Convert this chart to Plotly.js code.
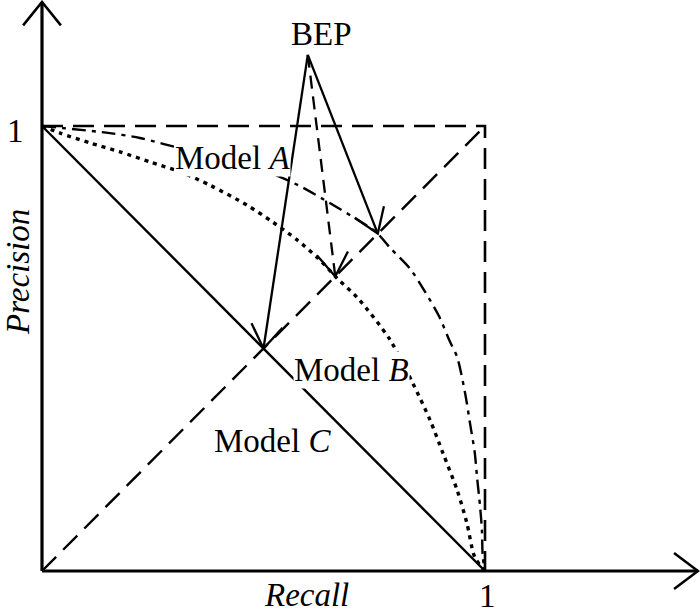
<!DOCTYPE html>
<html>
<head>
<meta charset="utf-8">
<script src="https://cdn.plot.ly/plotly-3.0.1.min.js"></script>
<style>html,body{margin:0;padding:0;background:#fff;}#chart{width:700px;height:614px;}</style>
</head>
<body>
<div id="chart"></div>
<script>
// ---------- data ----------
const diagRecall = [0, 1];
const diagPrecision = [0, 1];
const boxRecall = [0, 1, 1];
const boxPrecision = [1, 1, 0];

const modelCRecall = [0, 1];
const modelCPrecision = [1, 0];

const modelARecall = [0, 0.153, 0.221, 0.273, 0.515, 0.578, 0.634, 0.716, 0.756, 0.786, 0.831, 0.865, 0.896, 0.921, 0.937, 0.955, 0.966, 0.977, 0.982, 0.989, 0.993, 0.995, 1];
const modelAPrecision = [1, 0.984, 0.973, 0.960, 0.894, 0.867, 0.836, 0.787, 0.760, 0.726, 0.679, 0.627, 0.573, 0.515, 0.481, 0.400, 0.333, 0.265, 0.211, 0.144, 0.092, 0.031, 0];

const modelBRecall = [0, 0.041, 0.108, 0.176, 0.244, 0.312, 0.379, 0.463, 0.521, 0.576, 0.623, 0.666, 0.713, 0.786, 0.837, 0.876, 0.905, 0.937, 0.959, 0.977, 1];
const modelBPrecision = [1, 0.984, 0.962, 0.942, 0.919, 0.897, 0.867, 0.822, 0.784, 0.744, 0.703, 0.658, 0.613, 0.519, 0.422, 0.339, 0.265, 0.182, 0.108, 0.031, 0];

// BEP label anchor point and break-even points (Model C, Model B, Model A)
const bepSourceRecall = 0.600;
const bepSourcePrecision = 1.160;
const bepModels = ['C', 'B', 'A'];
const bepRecall = [0.500, 0.662, 0.758];
const bepPrecision = [0.500, 0.662, 0.758];

const tickLabelX = '1';
const tickLabelY = '1';
const xTitle = 'Recall';
const yTitle = 'Precision';
const bepLabel = 'BEP';
const modelLabels = ['Model <i>A</i>', 'Model <i>B</i>', 'Model <i>C</i>'];

// ---------- layout geometry ----------
const W = 700, H = 614;
const ORIGIN_PX = [42, 571];
const PX_X = 443, PX_Y = 445;
const xRange = [-ORIGIN_PX[0] / PX_X, (W - ORIGIN_PX[0]) / PX_X];
const yRange = [-(H - ORIGIN_PX[1]) / PX_Y, ORIGIN_PX[1] / PX_Y];
const xAxisEnd = (698 - ORIGIN_PX[0]) / PX_X;
const yAxisEnd = (ORIGIN_PX[1] - 2) / PX_Y;
const FONT = 'Liberation Serif, Times New Roman, serif';
const FS = 33;

function head(tipX, tipY, fromX, fromY, lenPx, angDeg) {
  const dxp = (fromX - tipX) * PX_X, dyp = (fromY - tipY) * PX_Y;
  const n = Math.hypot(dxp, dyp);
  const ux = dxp / n, uy = dyp / n;
  const a = angDeg * Math.PI / 180;
  const pts = [];
  for (const s of [1, -1]) {
    const rx = ux * Math.cos(s * a) - uy * Math.sin(s * a);
    const ry = ux * Math.sin(s * a) + uy * Math.cos(s * a);
    pts.push([tipX + rx * lenPx / PX_X, tipY + ry * lenPx / PX_Y]);
  }
  return {x: [pts[0][0], tipX, pts[1][0]], y: [pts[0][1], tipY, pts[1][1]]};
}

const traces = [];
function line(x, y, width, dash, shape) {
  traces.push({type: 'scatter', mode: 'lines', x: x, y: y, hoverinfo: 'skip',
    line: {color: '#000', width: width, dash: dash || 'solid', shape: shape || 'linear', smoothing: 0.8}});
}

// dashed reference box and diagonal
line(boxRecall, boxPrecision, 2.6, '21px,10px');
line(diagRecall, diagPrecision, 2.4, '20px,10px');
// models
line(modelCRecall, modelCPrecision, 2.4);
line(modelARecall, modelAPrecision, 2.4, '14px,6px,4px,6px', 'spline');
line(modelBRecall, modelBPrecision, 3.4, '4px,5px', 'spline');

// BEP arrows
const arrowStyle = {C: 'solid', B: '13px,8px', A: 'solid'};
bepModels.forEach((m, i) => {
  line([bepSourceRecall, bepRecall[i]], [bepSourcePrecision, bepPrecision[i]], 2.3, arrowStyle[m]);
  const h = head(bepRecall[i], bepPrecision[i], bepSourceRecall, bepSourcePrecision, 28, 34);
  line(h.x, h.y, 2.3);
});

// axes with open arrow heads
line([0, xAxisEnd], [0, 0], 3.2);
line([0, 0], [0, yAxisEnd], 3.2);
const hx = head(xAxisEnd, 0, 0, 0, 30, 37);
line(hx.x, hx.y, 2.6);
const hy = head(0, yAxisEnd, 0, 0, 30, 39);
line(hy.x, hy.y, 2.6);

function ann(text, x, y, extra) {
  return Object.assign({text: text, x: x, y: y, xref: 'x', yref: 'y', showarrow: false,
    xanchor: 'center', yanchor: 'middle', font: {family: FONT, size: FS, color: '#000'}}, extra || {});
}
const px2x = p => (p - ORIGIN_PX[0]) / PX_X;
const px2y = p => (ORIGIN_PX[1] - p) / PX_Y;

const annotations = [
  ann(tickLabelY, px2x(15), px2y(131)),
  ann(tickLabelX, px2x(487), px2y(596)),
  ann('<i>' + yTitle + '</i>', px2x(18), px2y(272), {textangle: -90}),
  ann('<i>' + xTitle + '</i>', px2x(306), px2y(595)),
  ann(bepLabel, px2x(321), px2y(34)),
  ann(modelLabels[0], px2x(232), px2y(158), {bgcolor: '#fff', borderpad: 0}),
  ann(modelLabels[1], px2x(351), px2y(370), {bgcolor: '#fff', borderpad: 0}),
  ann(modelLabels[2], px2x(272), px2y(441))
];

const layout = {
  width: W, height: H,
  margin: {l: 0, r: 0, t: 0, b: 0, pad: 0},
  paper_bgcolor: '#fff', plot_bgcolor: '#fff',
  showlegend: false,
  xaxis: {range: xRange, visible: false, fixedrange: true},
  yaxis: {range: yRange, visible: false, fixedrange: true},
  annotations: annotations
};

Plotly.newPlot('chart', traces, layout, {displayModeBar: false, staticPlot: true});
</script>
</body>
</html>
